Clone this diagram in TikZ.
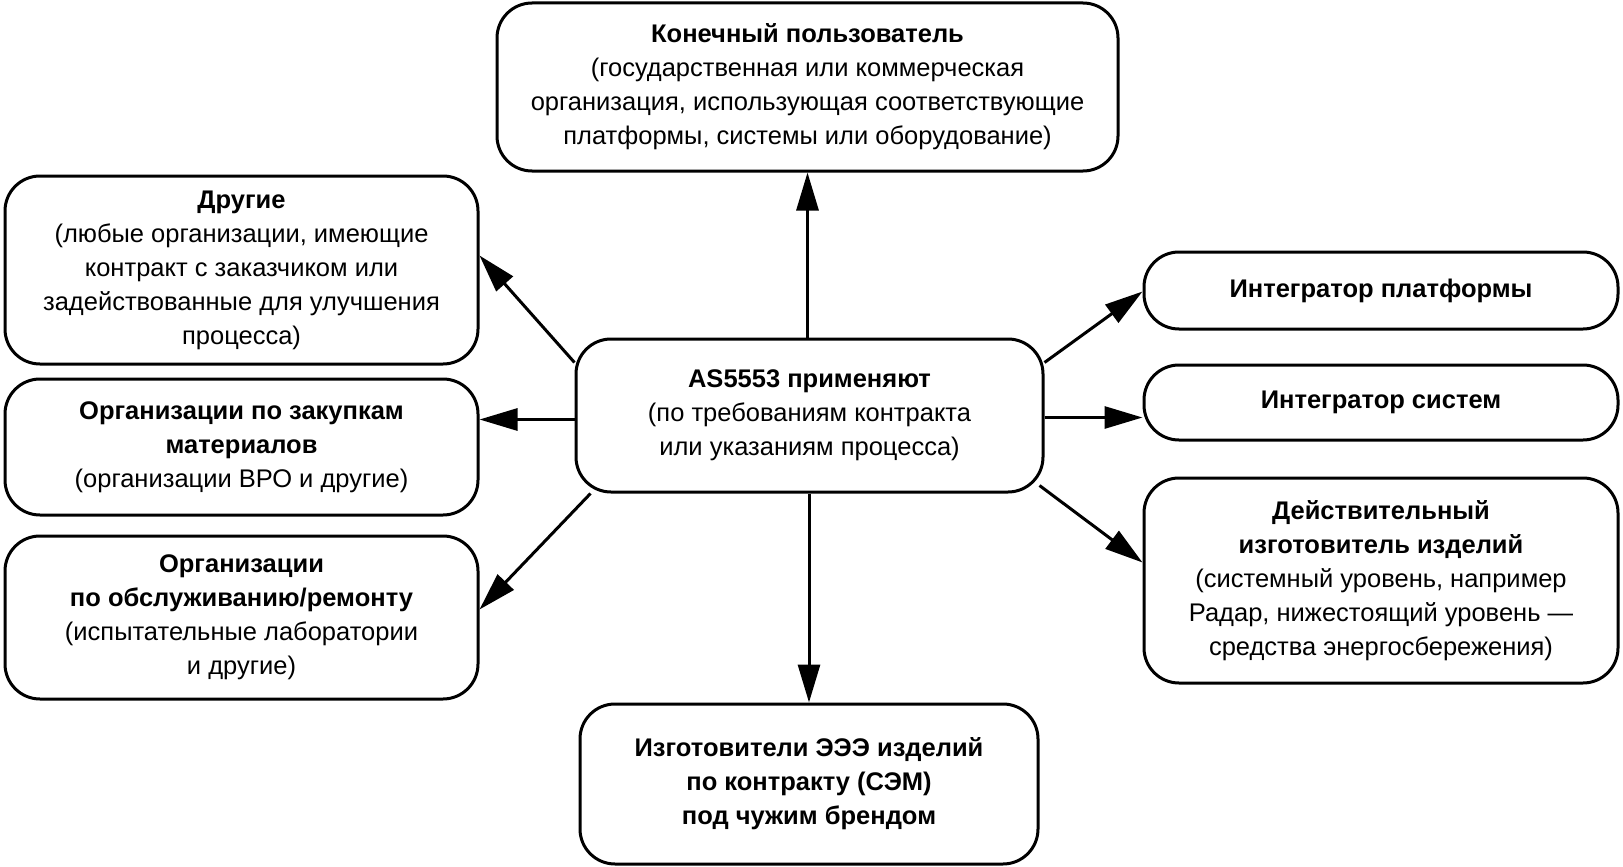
\documentclass[tikz,border=0pt]{standalone}
\usepackage{fontspec}
\setmainfont{Liberation Sans}
\usetikzlibrary{arrows.meta,calc}
\begin{document}
\begin{tikzpicture}[x=1pt,y=-1pt,
  box/.style={draw,line width=3pt,rounded corners=35pt,align=center,
    font=\fontsize{25.5}{34}\selectfont,inner sep=0pt},
  conn/.style={line width=3pt,-{Triangle[length=38pt,width=22pt]}}]
\useasboundingbox (0,0) rectangle (1623,867);
\node[box,minimum width=621pt,minimum height=168pt] (top) at (807.5,87)
  {\textbf{Конечный пользователь}\\(государственная или коммерческая\\организация, использующая соответствующие\\платформы, системы или оборудование)};
\node[box,minimum width=467pt,minimum height=153pt] (center) at (809.5,415.5)
  {\textbf{AS5553 применяют}\\(по требованиям контракта\\или указаниям процесса)};
\node[box,minimum width=473pt,minimum height=188pt] (others) at (241.5,270)
  {\textbf{Другие}\\(любые организации, имеющие\\контракт с заказчиком или\\задействованные для улучшения\\процесса)};
\node[box,minimum width=473pt,minimum height=136pt] (proc) at (241.5,447)
  {\textbf{Организации по закупкам}\\\textbf{материалов}\\(организации ВРО и другие)};
\node[box,minimum width=473pt,minimum height=163pt] (serv) at (241.5,617.5)
  {\textbf{Организации}\\\textbf{по обслуживанию/ремонту}\\(испытательные лаборатории\\и другие)};
\node[box,minimum width=458pt,minimum height=160pt] (bottom) at (809,784)
  {\textbf{Изготовители ЭЭЭ изделий}\\\textbf{по контракту (СЭМ)}\\\textbf{под чужим брендом}};
\node[box,minimum width=474pt,minimum height=77pt] (plat) at (1381,290.5)
  {\textbf{Интегратор платформы}};
\node[box,minimum width=474pt,minimum height=75pt] (sys) at (1381,402.5)
  {\textbf{Интегратор систем}};
\node[box,minimum width=474pt,minimum height=205pt] (manu) at (1381,580.5)
  {\textbf{Действительный}\\\textbf{изготовитель изделий}\\(системный уровень, например\\Радар, нижестоящий уровень —\\средства энергосбережения)};
% connectors
\draw[conn] (center.north -| top.south) -- (top.south);
\draw[conn] (center.south -| bottom.north) -- (bottom.north);
\draw[conn] ($(center.north west)+(0,25)$) -- ($(others.north east)+(0,81)$);
\draw[conn] ($(center.north west)+(0,82)$) -- ($(proc.north east)+(0,42)$);
\draw[conn] ($(center.south west)+(16,0)$) -- ($(serv.north east)+(0,75)$);
\draw[conn] ($(center.north east)+(0,25)$) -- ($(plat.north west)+(0,41)$);
\draw[conn] ($(center.north east)+(0,80)$) -- ($(sys.north west)+(0,54)$);
\draw[conn] ($(center.south east)+(-5,-8)$) -- ($(manu.north west)+(0,86)$);
\end{tikzpicture}
\end{document}
